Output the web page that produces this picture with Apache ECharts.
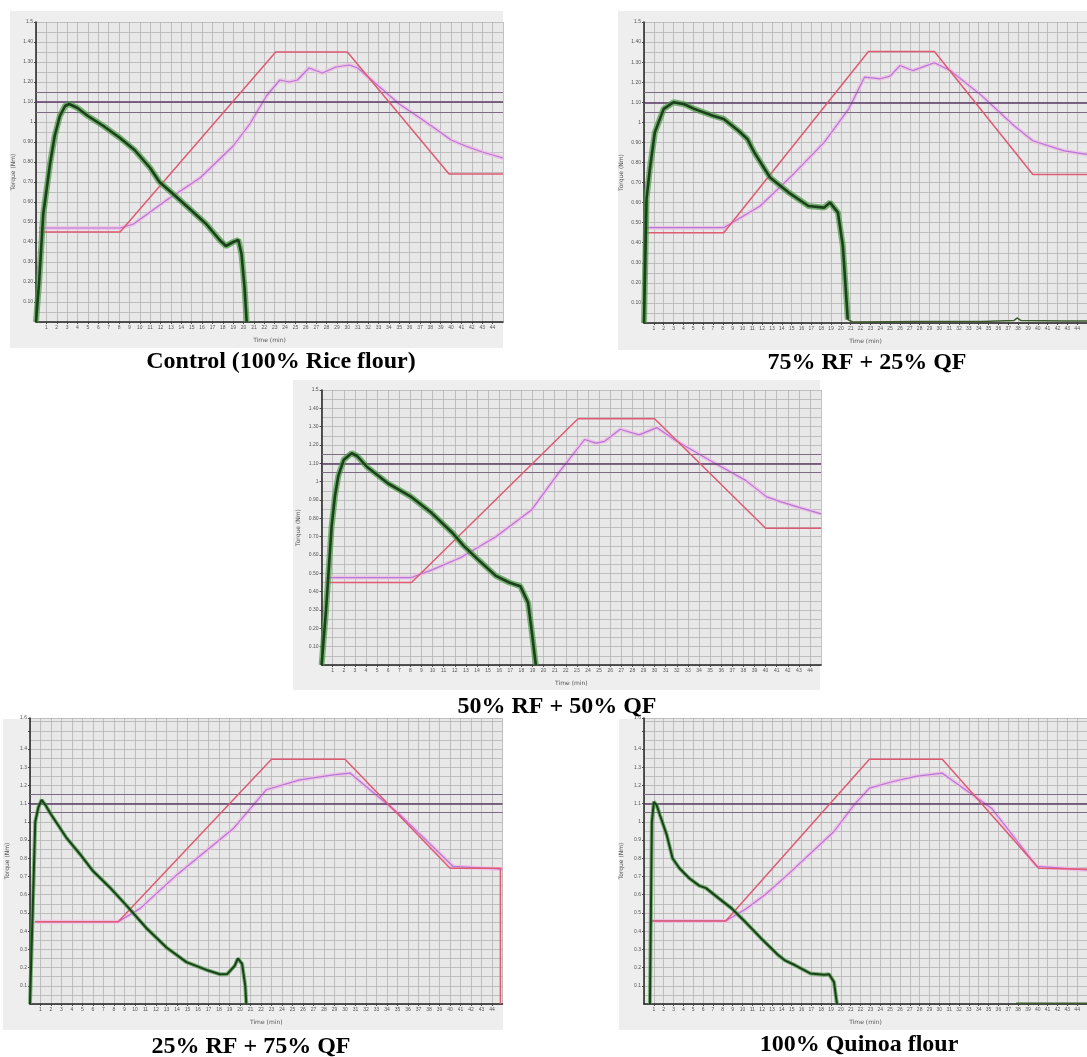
<!DOCTYPE html>
<html>
<head>
<meta charset="utf-8">
<script src="https://cdn.jsdelivr.net/npm/echarts@6/dist/echarts.min.js"></script>
<style>
html,body{margin:0;padding:0;background:#fff;}
#c{width:1087px;height:1057px;}
</style>
</head>
<body>
<div id="c"></div>
<script>
// ---------- DATA ----------
const panelTitles = ['Control (100% Rice flour)', '75% RF + 25% QF', '50% RF + 50% QF', '25% RF + 75% QF', '100% Quinoa flour'];
const xTickLabels = ['', '1','2','3','4','5','6','7','8','9','10','11','12','13','14','15','16','17','18','19','20','21','22','23','24','25','26','27','28','29','30','31','32','33','34','35','36','37','38','39','40','41','42','43','44',''];
const yTickLabelsA = ['', '0.10','0.20','0.30','0.40','0.50','0.60','0.70','0.80','0.90','1','1.10','1.20','1.30','1.40','1.5'];
const yTickLabelsB = ['', '0.1','0.2','0.3','0.4','0.5','0.6','0.7','0.8','0.9','1','1.1','1.2','1.3','1.4','','1.6'];
const refLevels = [1.05, 1.1, 1.15];

// Control (100% rice flour)
const controlTorque = [[0,0],[0.3,0.2],[0.7,0.54],[1.35,0.79],[1.8,0.93],[2.3,1.03],[2.8,1.08],[3.2,1.09],[4,1.07],[5,1.03],[6.5,0.98],[8.1,0.92],[9.5,0.86],[11,0.77],[11.9,0.7],[13,0.65],[14.5,0.58],[16.4,0.49],[17.7,0.41],[18.3,0.38],[19,0.4],[19.5,0.41],[19.8,0.34],[20.1,0.17],[20.3,0]];
const controlTarget = [[0.3,0.45],[8.1,0.45],[23.1,1.35],[30,1.35],[39.8,0.74],[45,0.74]];
const controlMeasured = [[0.3,0.47],[8.1,0.47],[9.4,0.49],[12.6,0.61],[15.8,0.72],[19,0.88],[20.6,0.99],[22.2,1.13],[23.5,1.21],[24.4,1.2],[25.2,1.21],[26.3,1.27],[27.6,1.245],[28.9,1.275],[30.2,1.285],[31,1.27],[33,1.18],[35,1.09],[37,1.02],[38.8,0.955],[40,0.91],[41.4,0.88],[43,0.85],[45,0.82]];
const controlTail = [];

// 75% RF + 25% QF
const rf75Torque = [[0,0],[0.26,0.62],[0.6,0.77],[1.1,0.95],[2,1.067],[3,1.1],[4.1,1.09],[5.1,1.067],[7,1.033],[8.1,1.017],[9.6,0.958],[10.5,0.917],[11.2,0.85],[12.8,0.725],[14.7,0.65],[16.7,0.583],[18.3,0.575],[18.9,0.6],[19.7,0.55],[20.2,0.383],[20.7,0.017]];
const rf75Target = [[0.3,0.45],[8.1,0.45],[22.8,1.353],[29.5,1.353],[39.5,0.74],[45,0.74]];
const rf75Measured = [[0.3,0.475],[8.1,0.475],[11.8,0.583],[15,0.733],[18.3,0.9],[20.8,1.067],[22.4,1.225],[24,1.217],[25,1.23],[26,1.283],[27.3,1.258],[29.5,1.297],[31.1,1.258],[34.3,1.133],[37.6,0.983],[39.5,0.908],[42.7,0.858],[45,0.84]];
const rf75Tail = [[20.7,0.017],[21.2,0.005],[25,0.006],[27.9,0.007],[34.3,0.008],[37.6,0.013],[37.9,0.025],[38.3,0.012],[42.7,0.01],[45,0.01]];

// 50% RF + 50% QF
const rf50Torque = [[0,0],[0.4,0.3],[0.9,0.755],[1.2,0.92],[1.5,1.03],[2,1.12],[2.7,1.155],[3.2,1.14],[4.1,1.08],[6,0.99],[8,0.92],[9.9,0.83],[11.8,0.72],[12.8,0.65],[14.1,0.575],[15.7,0.486],[16.9,0.45],[17.9,0.43],[18.6,0.34],[18.9,0.2],[19.3,0]];
const rf50Target = [[0.4,0.45],[8.1,0.45],[23.1,1.343],[30,1.343],[40,0.746],[45,0.746]];
const rf50Measured = [[0.4,0.477],[8.1,0.477],[10,0.52],[12.5,0.585],[15.7,0.7],[18.9,0.845],[21.5,1.06],[23.7,1.23],[24.7,1.21],[25.5,1.22],[26.9,1.286],[28.6,1.255],[30.2,1.295],[32,1.22],[35,1.115],[38.2,1.007],[40.1,0.917],[41.4,0.89],[43,0.86],[45,0.824]];
const rf50Tail = [];

// 25% RF + 75% QF
const rf25Torque = [[0,0],[0.3,0.6],[0.5,1.0],[0.8,1.08],[1.1,1.12],[1.5,1.09],[1.9,1.05],[2.7,0.98],[3.5,0.91],[4.8,0.82],[6,0.73],[7.6,0.64],[9.2,0.54],[11.1,0.416],[13,0.31],[14.9,0.23],[16.8,0.187],[18.1,0.163],[18.8,0.165],[19.5,0.21],[19.8,0.25],[20.2,0.22],[20.5,0.1],[20.6,0]];
const rf25Target = [[0.5,0.452],[8.4,0.452],[23,1.344],[30,1.344],[40,0.745],[44.8,0.745],[44.8,0]];
const rf25Measured = [[0.5,0.452],[8.4,0.452],[10.5,0.525],[14,0.71],[19.4,0.965],[22.5,1.176],[25.7,1.23],[28.9,1.258],[30.5,1.267],[35.2,1.04],[40.3,0.755],[45,0.74]];
const rf25Tail = [];

// 100% quinoa flour
const qfTorque = [[0.6,0],[0.7,0.5],[0.8,1.0],[1,1.11],[1.3,1.09],[1.6,1.04],[2.3,0.93],[2.9,0.8],[3.6,0.745],[4.6,0.69],[5.6,0.65],[6.3,0.636],[7.6,0.58],[8.9,0.525],[10.3,0.45],[11.9,0.36],[13.6,0.27],[14.3,0.24],[15.3,0.214],[16.9,0.168],[18.3,0.16],[18.8,0.163],[19.3,0.12],[19.6,0]];
const qfTarget = [[0.8,0.456],[8.3,0.456],[22.9,1.343],[30.3,1.343],[40.1,0.745],[45,0.74]];
const qfMeasured = [[0.8,0.456],[8.3,0.456],[10.3,0.52],[12.3,0.6],[14.6,0.71],[19.3,0.947],[21.3,1.09],[22.9,1.185],[25.2,1.22],[27.6,1.25],[30.3,1.267],[35.3,1.075],[39.9,0.755],[45,0.736]];
const qfTail = [[37.8,0.004],[45,0.004]];

// ---------- LAYOUT ----------
const panels = [
  {torque: controlTorque, target: controlTarget, measured: controlMeasured, tail: controlTail, labels: yTickLabelsA, yMax: 1.5,
   box: [10, 11, 493, 337], grid: {left: 36, top: 22, width: 467, height: 300}, title: [281, 362], noisy: true},
  {torque: rf75Torque, target: rf75Target, measured: rf75Measured, tail: rf75Tail, labels: yTickLabelsA, yMax: 1.5,
   box: [618, 11, 469, 339], grid: {left: 644, top: 22, width: 467, height: 301}, title: [867, 363], noisy: true},
  {torque: rf50Torque, target: rf50Target, measured: rf50Measured, tail: rf50Tail, labels: yTickLabelsA, yMax: 1.5,
   box: [293, 380, 527, 310], grid: {left: 321.6, top: 390, width: 499.5, height: 275}, title: [557, 707], noisy: true},
  {torque: rf25Torque, target: rf25Target, measured: rf25Measured, tail: rf25Tail, labels: yTickLabelsB, yMax: 1.57,
   box: [3, 719, 500, 311], grid: {left: 30, top: 718, width: 472.5, height: 286}, title: [251, 1047], noisy: false},
  {torque: qfTorque, target: qfTarget, measured: qfMeasured, tail: qfTail, labels: yTickLabelsB, yMax: 1.57,
   box: [619, 719, 468, 311], grid: {left: 644, top: 718, width: 450, height: 286}, title: [859, 1045], noisy: false}
];

const gridColor = '#b3b3b3';
const grids = [], xAxes = [], yAxes = [], series = [], graphics = [];

panels.forEach((p, i) => {
  graphics.push({type: 'rect', z: -100, shape: {x: p.box[0], y: p.box[1], width: p.box[2], height: p.box[3]},
    style: {fill: '#eeeeee'}});
  graphics.push({type: 'text', z: 100, x: p.title[0], y: p.title[1],
    style: {text: panelTitles[i], font: 'bold 24px "Liberation Serif", "Times New Roman", serif', fill: '#000',
      align: 'center', verticalAlign: 'middle', textAlign: 'center', textVerticalAlign: 'middle'}});
  grids.push(Object.assign({show: true, backgroundColor: '#e8e8e8', borderWidth: 0, containLabel: false}, p.grid));
  xAxes.push({
    type: 'value', gridIndex: i, min: 0, max: 45, interval: 1,
    name: 'Time (min)', nameLocation: 'middle', nameGap: 15,
    nameTextStyle: {fontSize: 6, color: '#555', fontFamily: 'DejaVu Sans'},
    axisLine: {show: true, onZero: false, lineStyle: {color: '#222', width: 1.5}},
    axisTick: {show: true, length: 2, lineStyle: {color: '#444'}},
    axisLabel: {show: true, fontSize: 5, color: '#555', margin: 3, showMinLabel: false, showMaxLabel: false,
      formatter: v => xTickLabels[Math.round(v)] || ''},
    splitLine: {show: true, lineStyle: {color: gridColor, width: 0.8}}
  });
  yAxes.push({
    type: 'value', gridIndex: i, min: 0, max: p.yMax, interval: 0.1,
    name: 'Torque (Nm)', nameLocation: 'middle', nameGap: 20, nameRotate: 90,
    nameTextStyle: {fontSize: 6, color: '#555', fontFamily: 'DejaVu Sans'},
    axisLine: {show: true, onZero: false, lineStyle: {color: '#222', width: 1.5}},
    axisTick: {show: true, length: 2, lineStyle: {color: '#444'}},
    axisLabel: {show: true, fontSize: 5, color: '#555', margin: 3, showMinLabel: false, showMaxLabel: true,
      formatter: v => p.labels[Math.round(v * 10)] || ''},
    splitLine: {show: true, lineStyle: {color: gridColor, width: 0.8}},
    minorTick: {show: false, splitNumber: 2},
    minorSplitLine: {show: true, lineStyle: {color: gridColor, width: 0.8}}
  });
  // measured temperature halo + line
  series.push({type: 'line', xAxisIndex: i, yAxisIndex: i, data: p.measured, symbol: 'none', z: 3,
    lineStyle: {color: '#f1bde3', width: 4, opacity: 0.85}});
  series.push({type: 'line', xAxisIndex: i, yAxisIndex: i, data: p.measured, symbol: 'none', z: 4,
    lineStyle: {color: '#b278d8', width: 1.2}});
  // target temperature + reference levels
  series.push({type: 'line', xAxisIndex: i, yAxisIndex: i, data: p.target, symbol: 'none', z: 5,
    lineStyle: {color: '#e05a72', width: 1.5},
    markLine: {silent: true, symbol: ['none', 'none'], label: {show: false}, animation: false,
      data: refLevels.map((lv, k) => ({yAxis: lv, lineStyle: {type: 'solid', color: k === 1 ? '#5a3a66' : '#7d6b84', width: k === 1 ? 1.6 : 1}}))}});
  // torque: halo + core
  series.push({type: 'line', xAxisIndex: i, yAxisIndex: i, data: p.torque, symbol: 'none', z: 6,
    lineStyle: {color: '#4a9a45', width: p.noisy ? 6 : 4, opacity: 0.7}});
  series.push({type: 'line', xAxisIndex: i, yAxisIndex: i, data: p.torque, symbol: 'none', z: 7,
    lineStyle: {color: '#1b401b', width: p.noisy ? 2.6 : 2}});
  if (p.tail.length) {
    series.push({type: 'line', xAxisIndex: i, yAxisIndex: i, data: p.tail, symbol: 'none', z: 7,
      lineStyle: {color: '#3d5a2a', width: 1.5}});
  }
});

const chart = echarts.init(document.getElementById('c'), null, {renderer: 'canvas'});
chart.setOption({
  animation: false,
  backgroundColor: '#ffffff',
  grid: grids, xAxis: xAxes, yAxis: yAxes, series: series,
  graphic: graphics
});
</script>
</body>
</html>
